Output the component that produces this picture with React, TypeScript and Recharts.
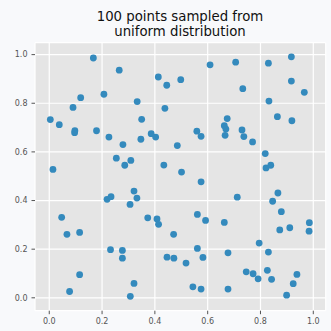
import { CartesianGrid, Scatter, ScatterChart, XAxis, YAxis } from "recharts";

const titleLines = ["100 points sampled from", "uniform distribution"];

const xTicks = [0, 0.2, 0.4, 0.6, 0.8, 1.0];
const yTicks = [0, 0.2, 0.4, 0.6, 0.8, 1.0];

// sample x / y values
const xs = [
  0.167, 0.265, 0.413, 0.445, 0.498, 0.207, 0.119, 0.09, 0.333, 0.438,
  0.004, 0.038, 0.35, 0.097, 0.096, 0.179, 0.226, 0.386, 0.403, 0.347,
  0.279, 0.485, 0.254, 0.309, 0.286, 0.434, 0.014, 0.501, 0.609, 0.706,
  0.83, 0.917, 0.917, 0.966, 0.733, 0.832, 0.674, 0.663, 0.669, 0.73,
  0.666, 0.737, 0.559, 0.575, 0.77, 0.864, 0.919, 0.818, 0.839, 0.821,
  0.575, 0.219, 0.234, 0.321, 0.332, 0.306, 0.047, 0.373, 0.408, 0.414,
  0.067, 0.115, 0.471, 0.232, 0.277, 0.277, 0.446, 0.472, 0.115, 0.321,
  0.077, 0.307, 0.712, 0.866, 0.846, 0.561, 0.592, 0.663, 0.879, 0.985,
  0.911, 0.873, 0.984, 0.795, 0.561, 0.677, 0.83, 0.518, 0.582, 0.746,
  0.772, 0.826, 0.791, 0.842, 0.938, 0.924, 0.899, 0.544, 0.575, 0.677,
];
const ys = [
  0.986, 0.936, 0.908, 0.874, 0.897, 0.837, 0.823, 0.783, 0.807, 0.779,
  0.733, 0.712, 0.734, 0.687, 0.679, 0.687, 0.661, 0.675, 0.661, 0.652,
  0.63, 0.626, 0.574, 0.565, 0.545, 0.546, 0.528, 0.517, 0.958, 0.969,
  0.965, 0.991, 0.891, 0.845, 0.86, 0.809, 0.737, 0.708, 0.694, 0.69,
  0.668, 0.663, 0.685, 0.664, 0.641, 0.745, 0.728, 0.593, 0.545, 0.534,
  0.477, 0.405, 0.416, 0.439, 0.41, 0.384, 0.331, 0.329, 0.324, 0.302,
  0.261, 0.269, 0.261, 0.198, 0.195, 0.163, 0.167, 0.163, 0.095, 0.059,
  0.026, 0.006, 0.414, 0.431, 0.397, 0.343, 0.318, 0.31, 0.354, 0.309,
  0.288, 0.279, 0.274, 0.225, 0.203, 0.185, 0.188, 0.143, 0.166, 0.107,
  0.099, 0.113, 0.078, 0.076, 0.096, 0.058, 0.011, 0.045, 0.036, 0.036,
];

const points = xs.map((x, i) => ({ x, y: ys[i] }));

const font = "DejaVu Sans, sans-serif";
const tickStyle = { fill: "#555", fontSize: 8, fontFamily: font };

const Dot = (props: any) => (
  <circle cx={props.cx} cy={props.cy} r={3.4} fill="#348ABD" />
);

export default function App() {
  return (
    <div
      style={{
        position: "absolute",
        left: 0,
        top: 0,
        width: 331,
        height: 331,
        background: "#f8f9fb",
      }}
    >
      <div
        style={{
          position: "absolute",
          left: 30,
          width: 300,
          top: 10,
          textAlign: "center",
          fontFamily: font,
          fontSize: 13.3,
          lineHeight: "14.5px",
          color: "#111",
        }}
      >
        {titleLines.map((t) => (
          <div key={t}>{t}</div>
        ))}
      </div>
      <ScatterChart
        width={331}
        height={331}
        margin={{ top: 42.7, right: 5.3, bottom: 0.3, left: 0 }}
      >
        <CartesianGrid fill="#e5e5e5" stroke="#ffffff" strokeWidth={1.2} />
        <XAxis
          type="number"
          dataKey="x"
          domain={[-0.054, 1.047]}
          allowDataOverflow
          ticks={xTicks}
          tickFormatter={(v: number) => v.toFixed(1)}
          axisLine={false}
          tickLine={{ stroke: "#555" }}
          tickSize={3.5}
          tickMargin={4}
          height={20}
          tick={tickStyle}
        />
        <YAxis
          type="number"
          dataKey="y"
          domain={[-0.053, 1.049]}
          allowDataOverflow
          ticks={yTicks}
          tickFormatter={(v: number) => v.toFixed(1)}
          axisLine={false}
          tickLine={{ stroke: "#555" }}
          tickSize={3.5}
          tickMargin={4}
          width={35}
          tick={tickStyle}
        />
        <Scatter data={points} shape={Dot} isAnimationActive={false} />
      </ScatterChart>
    </div>
  );
}
